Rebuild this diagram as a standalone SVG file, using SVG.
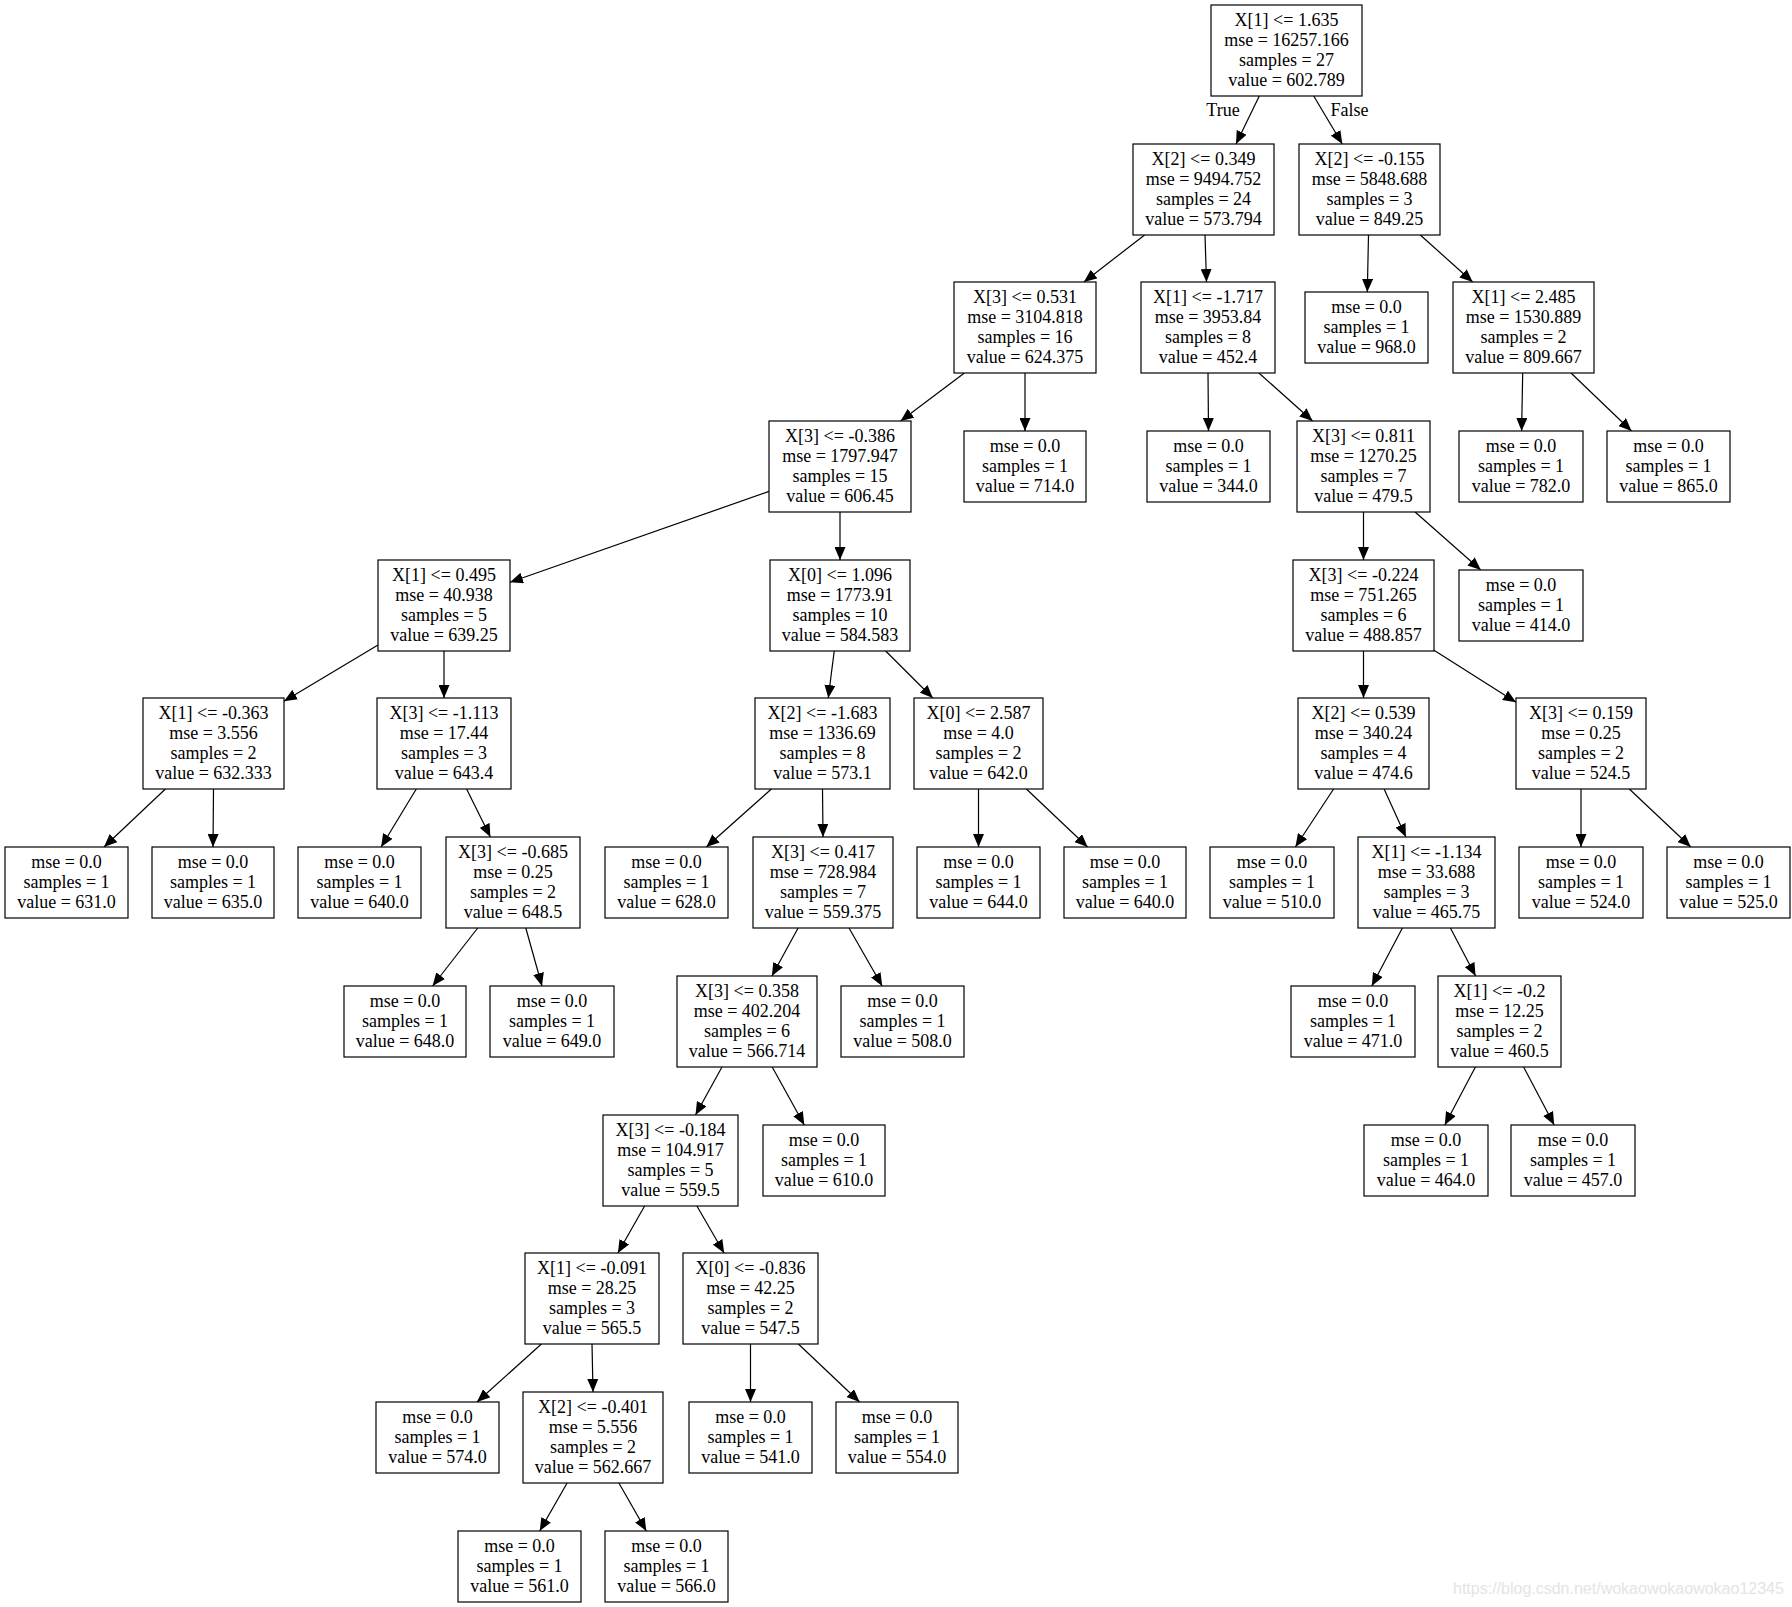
<svg xmlns="http://www.w3.org/2000/svg" width="1792" height="1607" viewBox="0 0 1792 1607">
<style>
rect{fill:#fff;stroke:#000;stroke-width:1.2}
text{font-family:"Liberation Serif","Times New Roman",serif;font-size:18px;text-anchor:middle;fill:#000}
#edges line{stroke:#000;stroke-width:1.2;marker-end:url(#ah)}
.wm{font-family:"Liberation Sans",Arial,sans-serif;font-size:16px;fill:#e4e4e4;text-anchor:start}
</style>
<defs>
<marker id="ah" viewBox="0 0 13 11" refX="13" refY="5.5" markerWidth="13" markerHeight="11" markerUnits="userSpaceOnUse" orient="auto"><path d="M0,0 L13,5.5 L0,11 z" fill="#000"/></marker>
</defs>
<rect x="0" y="0" width="1792" height="1607" style="stroke:none"/>
<g id="edges">
<line x1="1259.3" y1="96" x2="1236" y2="144"/>
<line x1="1313.7" y1="96" x2="1342.3" y2="144"/>
<line x1="1144.6" y1="235" x2="1083.9" y2="282"/>
<line x1="1205" y1="235" x2="1206.5" y2="282"/>
<line x1="1368.5" y1="235" x2="1367.3" y2="292"/>
<line x1="1420.3" y1="235" x2="1472.7" y2="282"/>
<line x1="964.4" y1="373" x2="900.6" y2="421"/>
<line x1="1025" y1="373" x2="1025" y2="431"/>
<line x1="1208" y1="373" x2="1208.5" y2="431"/>
<line x1="1258.9" y1="373" x2="1312.6" y2="421"/>
<line x1="1522.7" y1="373" x2="1521.6" y2="431"/>
<line x1="1571" y1="373" x2="1631.5" y2="431"/>
<line x1="769" y1="491.4" x2="510" y2="582.3"/>
<line x1="840" y1="512" x2="840" y2="560"/>
<line x1="1363.5" y1="512" x2="1363.5" y2="560"/>
<line x1="1415.1" y1="512" x2="1480.8" y2="570"/>
<line x1="378" y1="645" x2="284" y2="701.3"/>
<line x1="444" y1="651" x2="444" y2="698"/>
<line x1="834.2" y1="651" x2="828.3" y2="698"/>
<line x1="885.7" y1="651" x2="932.8" y2="698"/>
<line x1="1363.5" y1="651" x2="1363.5" y2="698"/>
<line x1="1434" y1="650.2" x2="1516" y2="702.3"/>
<line x1="165.4" y1="789" x2="104" y2="847"/>
<line x1="213.5" y1="789" x2="213" y2="847"/>
<line x1="416.3" y1="789" x2="381.1" y2="847"/>
<line x1="466.6" y1="789" x2="490.4" y2="837"/>
<line x1="771.4" y1="789" x2="706.3" y2="847"/>
<line x1="822.5" y1="789" x2="823" y2="837"/>
<line x1="978.5" y1="789" x2="978.5" y2="847"/>
<line x1="1026.4" y1="789" x2="1087.6" y2="847"/>
<line x1="1333.6" y1="789" x2="1295.4" y2="847"/>
<line x1="1384.1" y1="789" x2="1405.9" y2="837"/>
<line x1="1581" y1="789" x2="1581" y2="847"/>
<line x1="1629.3" y1="789" x2="1690.8" y2="847"/>
<line x1="477.7" y1="928" x2="432.6" y2="986"/>
<line x1="525.8" y1="928" x2="542" y2="986"/>
<line x1="798.1" y1="928" x2="771.9" y2="976"/>
<line x1="849" y1="928" x2="882.2" y2="986"/>
<line x1="1402.4" y1="928" x2="1371.8" y2="986"/>
<line x1="1450.4" y1="928" x2="1475.6" y2="976"/>
<line x1="722" y1="1067" x2="695.5" y2="1115"/>
<line x1="772.2" y1="1067" x2="804.3" y2="1125"/>
<line x1="1475.4" y1="1067" x2="1444.8" y2="1125"/>
<line x1="1523.6" y1="1067" x2="1554.2" y2="1125"/>
<line x1="644.6" y1="1206" x2="617.9" y2="1253"/>
<line x1="696.9" y1="1206" x2="724.1" y2="1253"/>
<line x1="541.4" y1="1344" x2="477" y2="1402"/>
<line x1="592" y1="1344" x2="593" y2="1392"/>
<line x1="750.5" y1="1344" x2="750.5" y2="1402"/>
<line x1="798.4" y1="1344" x2="859.6" y2="1402"/>
<line x1="567.1" y1="1483" x2="539.7" y2="1531"/>
<line x1="618.9" y1="1483" x2="646.3" y2="1531"/>
<text x="1223" y="116">True</text>
<text x="1349.5" y="116">False</text>
</g>
<g id="n0"><rect x="1211" y="5" width="151" height="91"/><text x="1286.5" y="26">X[1] &lt;= 1.635<tspan x="1286.5" dy="20">mse = 16257.166</tspan><tspan x="1286.5" dy="20">samples = 27</tspan><tspan x="1286.5" dy="20">value = 602.789</tspan></text></g>
<g id="n1"><rect x="1133" y="144" width="141" height="91"/><text x="1203.5" y="165">X[2] &lt;= 0.349<tspan x="1203.5" dy="20">mse = 9494.752</tspan><tspan x="1203.5" dy="20">samples = 24</tspan><tspan x="1203.5" dy="20">value = 573.794</tspan></text></g>
<g id="n2"><rect x="1299" y="144" width="141" height="91"/><text x="1369.5" y="165">X[2] &lt;= -0.155<tspan x="1369.5" dy="20">mse = 5848.688</tspan><tspan x="1369.5" dy="20">samples = 3</tspan><tspan x="1369.5" dy="20">value = 849.25</tspan></text></g>
<g id="n3"><rect x="954" y="282" width="142" height="91"/><text x="1025" y="303">X[3] &lt;= 0.531<tspan x="1025" dy="20">mse = 3104.818</tspan><tspan x="1025" dy="20">samples = 16</tspan><tspan x="1025" dy="20">value = 624.375</tspan></text></g>
<g id="n4"><rect x="1141" y="282" width="134" height="91"/><text x="1208" y="303">X[1] &lt;= -1.717<tspan x="1208" dy="20">mse = 3953.84</tspan><tspan x="1208" dy="20">samples = 8</tspan><tspan x="1208" dy="20">value = 452.4</tspan></text></g>
<g id="n5"><rect x="1305" y="292" width="123" height="71"/><text x="1366.5" y="313">mse = 0.0<tspan x="1366.5" dy="20">samples = 1</tspan><tspan x="1366.5" dy="20">value = 968.0</tspan></text></g>
<g id="n6"><rect x="1453" y="282" width="141" height="91"/><text x="1523.5" y="303">X[1] &lt;= 2.485<tspan x="1523.5" dy="20">mse = 1530.889</tspan><tspan x="1523.5" dy="20">samples = 2</tspan><tspan x="1523.5" dy="20">value = 809.667</tspan></text></g>
<g id="n7"><rect x="769" y="421" width="142" height="91"/><text x="840" y="442">X[3] &lt;= -0.386<tspan x="840" dy="20">mse = 1797.947</tspan><tspan x="840" dy="20">samples = 15</tspan><tspan x="840" dy="20">value = 606.45</tspan></text></g>
<g id="n8"><rect x="964" y="431" width="122" height="71"/><text x="1025" y="452">mse = 0.0<tspan x="1025" dy="20">samples = 1</tspan><tspan x="1025" dy="20">value = 714.0</tspan></text></g>
<g id="n9"><rect x="1147" y="431" width="123" height="71"/><text x="1208.5" y="452">mse = 0.0<tspan x="1208.5" dy="20">samples = 1</tspan><tspan x="1208.5" dy="20">value = 344.0</tspan></text></g>
<g id="n10"><rect x="1297" y="421" width="133" height="91"/><text x="1363.5" y="442">X[3] &lt;= 0.811<tspan x="1363.5" dy="20">mse = 1270.25</tspan><tspan x="1363.5" dy="20">samples = 7</tspan><tspan x="1363.5" dy="20">value = 479.5</tspan></text></g>
<g id="n11"><rect x="1459" y="431" width="124" height="71"/><text x="1521" y="452">mse = 0.0<tspan x="1521" dy="20">samples = 1</tspan><tspan x="1521" dy="20">value = 782.0</tspan></text></g>
<g id="n12"><rect x="1607" y="431" width="123" height="71"/><text x="1668.5" y="452">mse = 0.0<tspan x="1668.5" dy="20">samples = 1</tspan><tspan x="1668.5" dy="20">value = 865.0</tspan></text></g>
<g id="n13"><rect x="378" y="560" width="132" height="91"/><text x="444" y="581">X[1] &lt;= 0.495<tspan x="444" dy="20">mse = 40.938</tspan><tspan x="444" dy="20">samples = 5</tspan><tspan x="444" dy="20">value = 639.25</tspan></text></g>
<g id="n14"><rect x="770" y="560" width="140" height="91"/><text x="840" y="581">X[0] &lt;= 1.096<tspan x="840" dy="20">mse = 1773.91</tspan><tspan x="840" dy="20">samples = 10</tspan><tspan x="840" dy="20">value = 584.583</tspan></text></g>
<g id="n15"><rect x="1293" y="560" width="141" height="91"/><text x="1363.5" y="581">X[3] &lt;= -0.224<tspan x="1363.5" dy="20">mse = 751.265</tspan><tspan x="1363.5" dy="20">samples = 6</tspan><tspan x="1363.5" dy="20">value = 488.857</tspan></text></g>
<g id="n16"><rect x="1459" y="570" width="124" height="71"/><text x="1521" y="591">mse = 0.0<tspan x="1521" dy="20">samples = 1</tspan><tspan x="1521" dy="20">value = 414.0</tspan></text></g>
<g id="n17"><rect x="143" y="698" width="141" height="91"/><text x="213.5" y="719">X[1] &lt;= -0.363<tspan x="213.5" dy="20">mse = 3.556</tspan><tspan x="213.5" dy="20">samples = 2</tspan><tspan x="213.5" dy="20">value = 632.333</tspan></text></g>
<g id="n18"><rect x="377" y="698" width="134" height="91"/><text x="444" y="719">X[3] &lt;= -1.113<tspan x="444" dy="20">mse = 17.44</tspan><tspan x="444" dy="20">samples = 3</tspan><tspan x="444" dy="20">value = 643.4</tspan></text></g>
<g id="n19"><rect x="755" y="698" width="135" height="91"/><text x="822.5" y="719">X[2] &lt;= -1.683<tspan x="822.5" dy="20">mse = 1336.69</tspan><tspan x="822.5" dy="20">samples = 8</tspan><tspan x="822.5" dy="20">value = 573.1</tspan></text></g>
<g id="n20"><rect x="914" y="698" width="129" height="91"/><text x="978.5" y="719">X[0] &lt;= 2.587<tspan x="978.5" dy="20">mse = 4.0</tspan><tspan x="978.5" dy="20">samples = 2</tspan><tspan x="978.5" dy="20">value = 642.0</tspan></text></g>
<g id="n21"><rect x="1298" y="698" width="131" height="91"/><text x="1363.5" y="719">X[2] &lt;= 0.539<tspan x="1363.5" dy="20">mse = 340.24</tspan><tspan x="1363.5" dy="20">samples = 4</tspan><tspan x="1363.5" dy="20">value = 474.6</tspan></text></g>
<g id="n22"><rect x="1516" y="698" width="130" height="91"/><text x="1581" y="719">X[3] &lt;= 0.159<tspan x="1581" dy="20">mse = 0.25</tspan><tspan x="1581" dy="20">samples = 2</tspan><tspan x="1581" dy="20">value = 524.5</tspan></text></g>
<g id="n23"><rect x="5" y="847" width="123" height="71"/><text x="66.5" y="868">mse = 0.0<tspan x="66.5" dy="20">samples = 1</tspan><tspan x="66.5" dy="20">value = 631.0</tspan></text></g>
<g id="n24"><rect x="152" y="847" width="122" height="71"/><text x="213" y="868">mse = 0.0<tspan x="213" dy="20">samples = 1</tspan><tspan x="213" dy="20">value = 635.0</tspan></text></g>
<g id="n25"><rect x="298" y="847" width="123" height="71"/><text x="359.5" y="868">mse = 0.0<tspan x="359.5" dy="20">samples = 1</tspan><tspan x="359.5" dy="20">value = 640.0</tspan></text></g>
<g id="n26"><rect x="446" y="837" width="134" height="91"/><text x="513" y="858">X[3] &lt;= -0.685<tspan x="513" dy="20">mse = 0.25</tspan><tspan x="513" dy="20">samples = 2</tspan><tspan x="513" dy="20">value = 648.5</tspan></text></g>
<g id="n27"><rect x="605" y="847" width="123" height="71"/><text x="666.5" y="868">mse = 0.0<tspan x="666.5" dy="20">samples = 1</tspan><tspan x="666.5" dy="20">value = 628.0</tspan></text></g>
<g id="n28"><rect x="753" y="837" width="140" height="91"/><text x="823" y="858">X[3] &lt;= 0.417<tspan x="823" dy="20">mse = 728.984</tspan><tspan x="823" dy="20">samples = 7</tspan><tspan x="823" dy="20">value = 559.375</tspan></text></g>
<g id="n29"><rect x="917" y="847" width="123" height="71"/><text x="978.5" y="868">mse = 0.0<tspan x="978.5" dy="20">samples = 1</tspan><tspan x="978.5" dy="20">value = 644.0</tspan></text></g>
<g id="n30"><rect x="1064" y="847" width="122" height="71"/><text x="1125" y="868">mse = 0.0<tspan x="1125" dy="20">samples = 1</tspan><tspan x="1125" dy="20">value = 640.0</tspan></text></g>
<g id="n31"><rect x="1210" y="847" width="124" height="71"/><text x="1272" y="868">mse = 0.0<tspan x="1272" dy="20">samples = 1</tspan><tspan x="1272" dy="20">value = 510.0</tspan></text></g>
<g id="n32"><rect x="1358" y="837" width="137" height="91"/><text x="1426.5" y="858">X[1] &lt;= -1.134<tspan x="1426.5" dy="20">mse = 33.688</tspan><tspan x="1426.5" dy="20">samples = 3</tspan><tspan x="1426.5" dy="20">value = 465.75</tspan></text></g>
<g id="n33"><rect x="1519" y="847" width="124" height="71"/><text x="1581" y="868">mse = 0.0<tspan x="1581" dy="20">samples = 1</tspan><tspan x="1581" dy="20">value = 524.0</tspan></text></g>
<g id="n34"><rect x="1667" y="847" width="123" height="71"/><text x="1728.5" y="868">mse = 0.0<tspan x="1728.5" dy="20">samples = 1</tspan><tspan x="1728.5" dy="20">value = 525.0</tspan></text></g>
<g id="n35"><rect x="344" y="986" width="122" height="71"/><text x="405" y="1007">mse = 0.0<tspan x="405" dy="20">samples = 1</tspan><tspan x="405" dy="20">value = 648.0</tspan></text></g>
<g id="n36"><rect x="490" y="986" width="124" height="71"/><text x="552" y="1007">mse = 0.0<tspan x="552" dy="20">samples = 1</tspan><tspan x="552" dy="20">value = 649.0</tspan></text></g>
<g id="n37"><rect x="677" y="976" width="140" height="91"/><text x="747" y="997">X[3] &lt;= 0.358<tspan x="747" dy="20">mse = 402.204</tspan><tspan x="747" dy="20">samples = 6</tspan><tspan x="747" dy="20">value = 566.714</tspan></text></g>
<g id="n38"><rect x="841" y="986" width="123" height="71"/><text x="902.5" y="1007">mse = 0.0<tspan x="902.5" dy="20">samples = 1</tspan><tspan x="902.5" dy="20">value = 508.0</tspan></text></g>
<g id="n39"><rect x="1291" y="986" width="124" height="71"/><text x="1353" y="1007">mse = 0.0<tspan x="1353" dy="20">samples = 1</tspan><tspan x="1353" dy="20">value = 471.0</tspan></text></g>
<g id="n40"><rect x="1438" y="976" width="123" height="91"/><text x="1499.5" y="997">X[1] &lt;= -0.2<tspan x="1499.5" dy="20">mse = 12.25</tspan><tspan x="1499.5" dy="20">samples = 2</tspan><tspan x="1499.5" dy="20">value = 460.5</tspan></text></g>
<g id="n41"><rect x="603" y="1115" width="135" height="91"/><text x="670.5" y="1136">X[3] &lt;= -0.184<tspan x="670.5" dy="20">mse = 104.917</tspan><tspan x="670.5" dy="20">samples = 5</tspan><tspan x="670.5" dy="20">value = 559.5</tspan></text></g>
<g id="n42"><rect x="763" y="1125" width="122" height="71"/><text x="824" y="1146">mse = 0.0<tspan x="824" dy="20">samples = 1</tspan><tspan x="824" dy="20">value = 610.0</tspan></text></g>
<g id="n43"><rect x="1364" y="1125" width="124" height="71"/><text x="1426" y="1146">mse = 0.0<tspan x="1426" dy="20">samples = 1</tspan><tspan x="1426" dy="20">value = 464.0</tspan></text></g>
<g id="n44"><rect x="1511" y="1125" width="124" height="71"/><text x="1573" y="1146">mse = 0.0<tspan x="1573" dy="20">samples = 1</tspan><tspan x="1573" dy="20">value = 457.0</tspan></text></g>
<g id="n45"><rect x="525" y="1253" width="134" height="91"/><text x="592" y="1274">X[1] &lt;= -0.091<tspan x="592" dy="20">mse = 28.25</tspan><tspan x="592" dy="20">samples = 3</tspan><tspan x="592" dy="20">value = 565.5</tspan></text></g>
<g id="n46"><rect x="683" y="1253" width="135" height="91"/><text x="750.5" y="1274">X[0] &lt;= -0.836<tspan x="750.5" dy="20">mse = 42.25</tspan><tspan x="750.5" dy="20">samples = 2</tspan><tspan x="750.5" dy="20">value = 547.5</tspan></text></g>
<g id="n47"><rect x="376" y="1402" width="123" height="71"/><text x="437.5" y="1423">mse = 0.0<tspan x="437.5" dy="20">samples = 1</tspan><tspan x="437.5" dy="20">value = 574.0</tspan></text></g>
<g id="n48"><rect x="523" y="1392" width="140" height="91"/><text x="593" y="1413">X[2] &lt;= -0.401<tspan x="593" dy="20">mse = 5.556</tspan><tspan x="593" dy="20">samples = 2</tspan><tspan x="593" dy="20">value = 562.667</tspan></text></g>
<g id="n49"><rect x="689" y="1402" width="123" height="71"/><text x="750.5" y="1423">mse = 0.0<tspan x="750.5" dy="20">samples = 1</tspan><tspan x="750.5" dy="20">value = 541.0</tspan></text></g>
<g id="n50"><rect x="836" y="1402" width="122" height="71"/><text x="897" y="1423">mse = 0.0<tspan x="897" dy="20">samples = 1</tspan><tspan x="897" dy="20">value = 554.0</tspan></text></g>
<g id="n51"><rect x="458" y="1531" width="123" height="71"/><text x="519.5" y="1552">mse = 0.0<tspan x="519.5" dy="20">samples = 1</tspan><tspan x="519.5" dy="20">value = 561.0</tspan></text></g>
<g id="n52"><rect x="605" y="1531" width="123" height="71"/><text x="666.5" y="1552">mse = 0.0<tspan x="666.5" dy="20">samples = 1</tspan><tspan x="666.5" dy="20">value = 566.0</tspan></text></g>
<text class="wm" x="1453" y="1594">https://blog.csdn.net/wokaowokaowokao12345</text>
</svg>
